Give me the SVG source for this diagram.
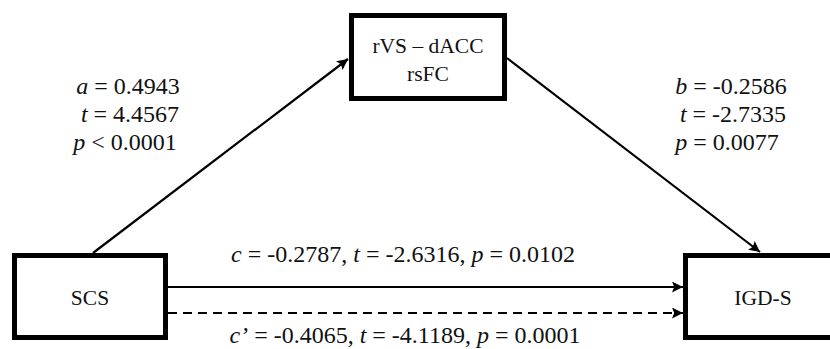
<svg xmlns="http://www.w3.org/2000/svg" width="830" height="349" viewBox="0 0 830 349">
  <style>
    .box { fill: #ffffff; stroke: #000000; stroke-width: 5; }
    .lbl { font-family: "Liberation Serif", "Times New Roman", serif; font-size: 21.5px; fill: #111111; text-anchor: middle; }
    .stat { font-family: "Liberation Serif", "Times New Roman", serif; font-size: 24px; fill: #111111; }
    .it { font-style: italic; }
    .edge { stroke: #000000; stroke-width: 2.2; fill: none; }
    .dash { stroke-dasharray: 9 6; }
  </style>
  <defs>
    <marker id="arrow" viewBox="0 0 10 10" refX="10" refY="5" markerWidth="5.5" markerHeight="5" orient="auto" markerUnits="strokeWidth">
      <path d="M0,0 L10,5 L0,10 L2,5 Z" fill="#000000"/>
    </marker>
  </defs>

  <rect width="830" height="349" fill="#ffffff"/>

  <!-- paths between the variables -->
  <g id="connectors">
    <line class="edge" x1="93" y1="253" x2="348" y2="59" marker-end="url(#arrow)"/>
    <line class="edge" x1="507" y1="58" x2="760" y2="252" marker-end="url(#arrow)"/>
    <line class="edge" x1="168" y1="287" x2="683" y2="287" marker-end="url(#arrow)"/>
    <line class="edge dash" x1="168" y1="313" x2="683" y2="313" marker-end="url(#arrow)"/>
  </g>

  <!-- mediator -->
  <g id="node-mediator">
    <rect class="box" x="351.5" y="15.5" width="153" height="83"/>
    <text class="lbl" x="428" y="53">rVS – dACC</text>
    <text class="lbl" x="428" y="81">rsFC</text>
  </g>

  <!-- predictor -->
  <g id="node-scs">
    <rect class="box" x="14.5" y="255.5" width="151" height="82"/>
    <text class="lbl" x="90" y="305">SCS</text>
  </g>

  <!-- outcome -->
  <g id="node-igds">
    <rect class="box" x="685.5" y="255.5" width="160" height="82"/>
    <text class="lbl" x="763" y="305">IGD-S</text>
  </g>

  <!-- path a -->
  <g id="stats-a" class="stat" text-anchor="middle">
    <text x="128" y="94"><tspan class="it">a</tspan> = 0.4943</text>
    <text x="130" y="122"><tspan class="it">t</tspan> = 4.4567</text>
    <text x="125" y="150"><tspan class="it">p</tspan> &lt; 0.0001</text>
  </g>

  <!-- path b -->
  <g id="stats-b" class="stat" text-anchor="middle">
    <text x="731" y="94"><tspan class="it">b</tspan> = -0.2586</text>
    <text x="733" y="122"><tspan class="it">t</tspan> = -2.7335</text>
    <text x="727" y="150"><tspan class="it">p</tspan> = 0.0077</text>
  </g>

  <!-- total and direct effects -->
  <g id="stats-c" class="stat" text-anchor="middle">
    <text x="403" y="262"><tspan class="it">c</tspan> = -0.2787, <tspan class="it">t</tspan> = -2.6316, <tspan class="it">p</tspan> = 0.0102</text>
    <text x="405" y="343"><tspan class="it">c’</tspan> = -0.4065, <tspan class="it">t</tspan> = -4.1189, <tspan class="it">p</tspan> = 0.0001</text>
  </g>
</svg>
